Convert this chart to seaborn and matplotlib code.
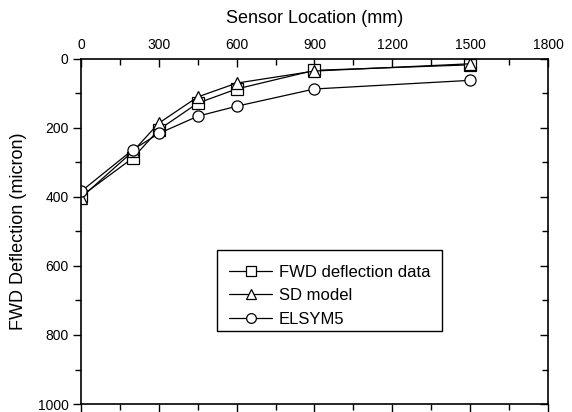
import matplotlib
matplotlib.use("Agg")
import matplotlib.pyplot as plt
import seaborn as sns
import pandas as pd
from matplotlib.ticker import MultipleLocator
from matplotlib.patches import Rectangle

sensor_mm = [0, 200, 300, 450, 600, 900, 1500]
fwd_data = [398, 287, 205, 128, 87, 33, 17]
sd_model = [402, 268, 186, 110, 70, 35, 14]
elsym5 = [384, 263, 216, 166, 137, 87, 62]

series = [
    ("FWD deflection data", fwd_data, "s"),
    ("SD model", sd_model, "^"),
    ("ELSYM5", elsym5, "o"),
]

sns.set_style("ticks", {"text.color": "black", "axes.labelcolor": "black",
                        "xtick.color": "black", "ytick.color": "black",
                        "axes.edgecolor": "black"})
plt.rcParams['font.family'] = ['Liberation Sans', 'DejaVu Sans']

fig = plt.figure(figsize=(5.72, 4.12), dpi=100)
ax = fig.add_axes([0.1416, 0.0194, 0.8164, 0.8375])

for name, vals, mk in series:
    df = pd.DataFrame({"x": sensor_mm, "y": vals})
    sns.lineplot(data=df, x="x", y="y", ax=ax, label=name, color="black",
                 marker=mk, markersize=8, markerfacecolor="white",
                 markeredgecolor="black", markeredgewidth=0.9, linewidth=0.9)

ax.set_xlim(0, 1800)
ax.set_ylim(1000, 0)
ax.xaxis.set_major_locator(MultipleLocator(300))
ax.xaxis.set_minor_locator(MultipleLocator(150))
ax.yaxis.set_major_locator(MultipleLocator(200))
ax.yaxis.set_minor_locator(MultipleLocator(100))

ax.xaxis.set_label_position("top")
ax.set_xlabel("Sensor Location (mm)", fontsize=13, labelpad=10.5, color="black")
ax.set_ylabel("FWD Deflection (micron)", fontsize=13, labelpad=8, color="black")

ax.tick_params(axis="x", which="both", top=True, bottom=True, labeltop=True,
               labelbottom=False, labelsize=10, direction="in", pad=5,
               colors="black")
ax.tick_params(axis="y", which="both", left=True, right=True, labelsize=10,
               direction="out", pad=3, colors="black")
ax.tick_params(which="major", length=6, width=1)
ax.tick_params(which="minor", length=4, width=1)
# bottom ticks outward, right ticks inward
for t in ax.xaxis.get_major_ticks() + ax.xaxis.get_minor_ticks():
    t.tick1line.set_marker(3)  # TICKDOWN on bottom (outward)
for t in ax.yaxis.get_major_ticks() + ax.yaxis.get_minor_ticks():
    t.tick2line.set_marker(0)  # TICKLEFT on right (inward)

for s in ax.spines.values():
    s.set_visible(True)
    s.set_linewidth(1.2)
    s.set_color("black")

# legend frame drawn as a rectangle; entries placed inside
ax.add_patch(Rectangle((0.291, 0.212), 0.482, 0.235, transform=ax.transAxes,
                       facecolor="white", edgecolor="black", linewidth=1.0,
                       zorder=4))
leg = ax.legend(loc="upper left", bbox_to_anchor=(0.317, 0.404),
                fontsize=12, handlelength=2.6, frameon=False,
                borderpad=0, labelspacing=0.52, handletextpad=0.4,
                borderaxespad=0, labelcolor="black")
leg.set_zorder(5)
for h in leg.legend_handles:
    h.set_markersize(7)

fig.savefig("out.png", dpi=100)
